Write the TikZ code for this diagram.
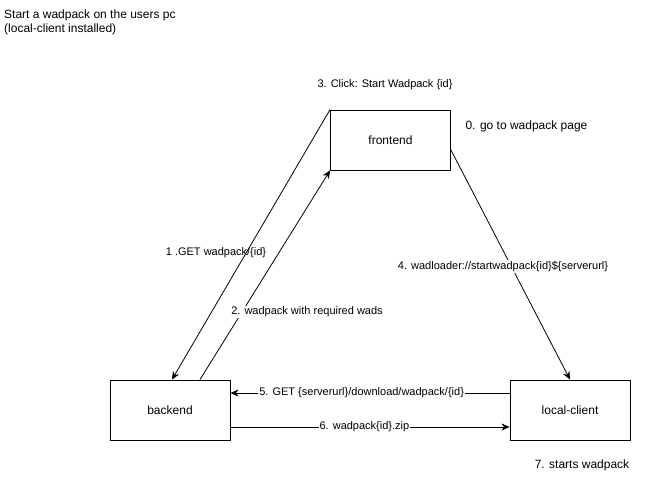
\documentclass[tikz,border=0pt]{standalone}
\usepackage{fontspec}
\setmainfont{Liberation Sans}
\usetikzlibrary{arrows.meta,calc}
\begin{document}
\begin{tikzpicture}[x=1pt,y=-1pt,
  every node/.style={font=\fontsize{11}{13}\selectfont, inner sep=1pt},
  bigtext/.style={font=\fontsize{12}{13.5}\selectfont},
  box/.style={draw, line width=0.9pt, minimum width=120pt, minimum height=60pt, inner sep=0pt, font=\fontsize{12}{13.5}\selectfont},
  conn/.style={draw, line width=0.8pt, -{Stealth[length=8pt,width=7pt,inset=2.5pt]}},
  elabel/.style={fill=white, inner sep=1pt}
]
\useasboundingbox (0,0) rectangle (660,480);
\node[box] (frontend) at (390.5,140) {frontend};
\node[box] (backend) at (170,410) {backend};
\node[box] (local) at (570,410) {local-client};

\node[bigtext, anchor=west, align=left] (title) at (3,22.5) {Start a wadpack on the users pc\\(local-client installed)};
\node (l3) at (385,85) {3. Click: Start Wadpack \{id\}};
\node[bigtext] (l0) at (526.5,126) {0. go to wadpack page};
\node[bigtext] (l7) at (582,465) {7. starts wadpack};

\coordinate (b1) at ($(backend.north)+(2,0)$);
\coordinate (b2) at ($(backend.north)+(30,0)$);
\coordinate (f4) at ($(frontend.east)+(0,10)$);
\coordinate (c5) at ($(local.west)+(0,-17)$);
\coordinate (e5) at ($(backend.east)+(0,-17)$);
\coordinate (s6) at ($(backend.east)+(0,17)$);
\coordinate (c6) at ($(local.west)+(0,17)$);

\draw[conn] (frontend.north west) -- (b1);
\node (l1) at (216,253) {1 .GET wadpack/\{id\}};

\draw[conn] (b2) -- (frontend.south west);
\node[elabel] (l2) at (307,312) {2. wadpack with required wads};

\draw[conn] (f4) -- (local.north);
\node[elabel] (l4) at (503,266.5) {4. wadloader://startwadpack\{id\}\$\{serverurl\}};

\draw[conn] (c5) -- node[elabel, pos=0.53] (l5) {5. GET \{serverurl\}/download/wadpack/\{id\}} (e5);
\draw[conn] (s6) -- node[elabel, pos=0.48] (l6) {6. wadpack\{id\}.zip} (c6);
\end{tikzpicture}
\end{document}
